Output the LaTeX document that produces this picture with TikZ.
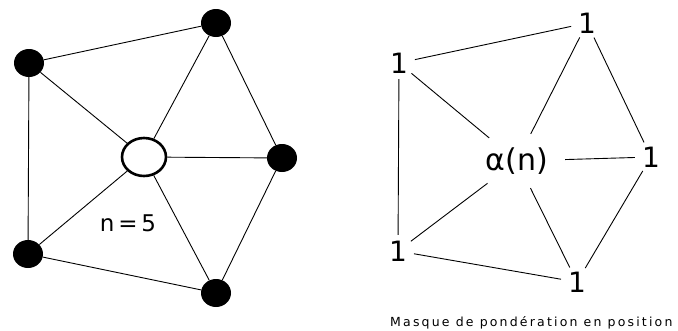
\documentclass[tikz,border=0pt]{standalone}
\usepackage{fontspec}
\setmainfont{DejaVu Sans}
\usetikzlibrary{shapes.geometric}
\tikzset{
  dot/.style={ellipse,fill=black,minimum width=30pt,minimum height=28pt,inner sep=0pt},
  centre/.style={ellipse,draw=black,line width=2.6pt,fill=white,minimum width=44pt,minimum height=38pt,inner sep=0pt},
  edge/.style={line width=0.9pt},
  one/.style={circle,inner sep=0pt,minimum size=32pt,font=\fontsize{28}{30}\selectfont},
  alpha/.style={ellipse,inner sep=0pt,minimum width=96pt,minimum height=56pt,font=\fontsize{30}{32}\selectfont},
  caption/.style={font=\fontsize{12.5}{14}\selectfont\addfontfeatures{LetterSpace=17.5}},
}
\begin{document}
\begin{tikzpicture}[x=1pt,y=-1pt]
\useasboundingbox (0,0) rectangle (678,330);
% left graph
\node[dot] (a) at (216,23) {};
\node[dot] (b) at (29,63) {};
\node[dot] (c) at (282,158) {};
\node[dot] (d) at (28,254) {};
\node[dot] (e) at (216,293) {};
\node[centre] (o) at (144,157) {};
\draw[edge] (a) -- (b) (b) -- (d) (d) -- (e) (e) -- (c) (c) -- (a);
\draw[edge] (o) -- (a) (o) -- (b) (o) -- (c) (o) -- (d) (o) -- (e);
\node[font=\fontsize{23}{26}\selectfont,anchor=base] (n) at (128,231.5) {n\,=\,5};
% right graph
\node[one] (ra) at (587,23) {1};
\node[one] (rb) at (399,63) {1};
\node[one] (rc) at (651,157) {1};
\node[one] (rd) at (398,251) {1};
\node[one] (re) at (577,282) {1};
\node[alpha] (ro) at (517,161) {α(n)};
\draw[edge] (ra) -- (rb) (rb) -- (rd) (rd) -- (re) (re) -- (rc) (rc) -- (ra);
\draw[edge] (ro) -- (ra) (ro) -- (rb) (ro) -- (rc) (ro) -- (rd) (ro) -- (re);
\node[caption,anchor=base west,inner sep=0pt] (cap) at (390,326) {Masque de pondération en position};
\end{tikzpicture}
\end{document}
